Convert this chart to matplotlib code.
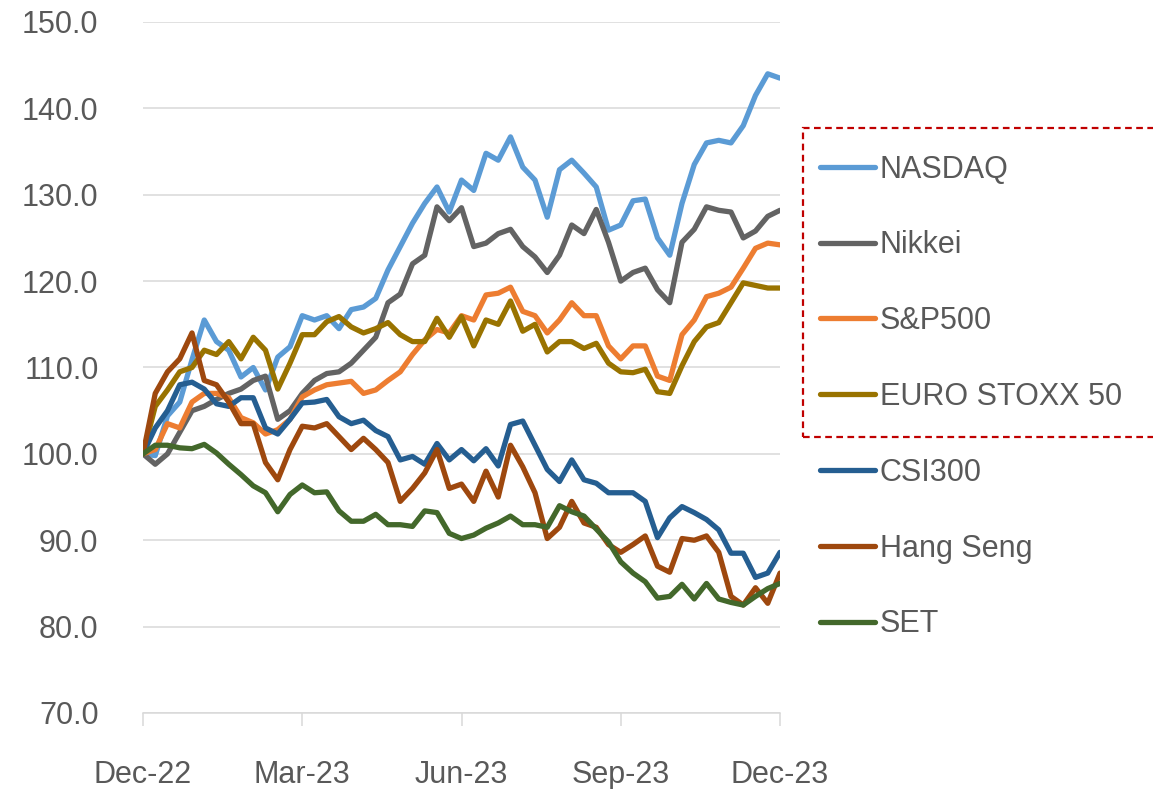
import numpy as np
import matplotlib.pyplot as plt
from matplotlib.patches import Rectangle

plt.rcParams['font.family'] = ['Liberation Sans', 'DejaVu Sans']

# weekly index levels, Dec-22 = 100
weeks = np.arange(53)

nasdaq = [100, 99.8, 104.4, 106, 110.9, 115.5, 113, 112, 108.9, 110, 107.4, 111.2, 112.4,
          116, 115.5, 116, 114.5, 116.7, 117, 118, 121.3, 124, 126.7, 129, 130.9, 128,
          131.7, 130.5, 134.8, 134, 136.7, 133.2, 131.7, 127.4, 132.9, 134, 132.5, 130.9,
          125.9, 126.5, 129.3, 129.5, 125, 123, 129, 133.5, 136, 136.3, 136, 138, 141.5,
          144, 143.5]
nikkei = [100, 98.8, 100, 102.5, 105, 105.5, 106.3, 107, 107.5, 108.5, 109, 104, 105,
          107, 108.5, 109.3, 109.5, 110.5, 112, 113.5, 117.5, 118.5, 122, 123, 128.6, 127,
          128.5, 124, 124.4, 125.5, 126, 124, 122.8, 121, 123, 126.5, 125.5, 128.3, 124.5,
          120, 121, 121.5, 119, 117.5, 124.5, 126, 128.6, 128.2, 128, 125, 125.8, 127.5,
          128.2]
sp500 = [100, 100.5, 103.5, 103, 106, 107, 107, 106.5, 104.2, 103.6, 102.3, 102.8, 104,
         106.6, 107.4, 108, 108.2, 108.4, 107, 107.4, 108.5, 109.5, 111.5, 113.2, 114.4, 114,
         116, 115.5, 118.4, 118.6, 119.3, 116.5, 116, 114, 115.5, 117.5, 116, 116, 112.5,
         111, 112.5, 112.5, 109, 108.5, 113.8, 115.5, 118.2, 118.6, 119.3, 121.5, 123.8,
         124.4, 124.2]
eurostoxx = [100, 105.5, 107.4, 109.5, 110, 112, 111.5, 113, 111, 113.5, 112, 107.5, 110.5,
             113.8, 113.8, 115.3, 115.9, 114.7, 114, 114.5, 115.2, 113.8, 113, 113, 115.7,
             113.5, 115.9, 112.5, 115.5, 115, 117.7, 114.2, 115, 111.8, 113, 113, 112.2,
             112.8, 110.5, 109.5, 109.4, 109.8, 107.2, 107, 110.2, 113, 114.7, 115.2, 117.5,
             119.8, 119.5, 119.2, 119.2]
csi300 = [100, 103, 105, 108, 108.3, 107.5, 105.8, 105.5, 106.5, 106.5, 103, 102.3, 104,
          105.9, 106, 106.3, 104.3, 103.5, 103.9, 102.7, 102, 99.3, 99.7, 98.8, 101.2, 99.3,
          100.5, 99.2, 100.6, 98.6, 103.4, 103.8, 101, 98.2, 96.8, 99.3, 97, 96.6, 95.5,
          95.5, 95.5, 94.5, 90.3, 92.6, 93.9, 93.2, 92.4, 91.2, 88.5, 88.5, 85.7, 86.2, 88.6]
hangseng = [100, 107, 109.5, 111, 114, 108.5, 108, 106, 103.5, 103.5, 99, 97, 100.5,
            103.2, 103, 103.5, 102, 100.5, 101.8, 100.5, 99, 94.5, 96, 97.8, 100.5, 96,
            96.5, 94.5, 98, 95, 101, 98.5, 95.5, 90.2, 91.5, 94.5, 92, 91.5, 89.5, 88.6,
            89.5, 90.5, 87, 86.3, 90.2, 90, 90.5, 88.6, 83.5, 82.5, 84.5, 82.7, 86.2]
set_idx = [100, 101, 101, 100.7, 100.6, 101.1, 100.1, 98.8, 97.6, 96.3, 95.5, 93.3, 95.3,
           96.4, 95.5, 95.6, 93.4, 92.2, 92.2, 93, 91.8, 91.8, 91.6, 93.4, 93.2, 90.8, 90.2,
           90.6, 91.4, 92, 92.8, 91.8, 91.8, 91.5, 94, 93.3, 92.8, 91.3, 89.8, 87.5, 86.2,
           85.2, 83.3, 83.5, 84.9, 83.2, 85, 83.2, 82.8, 82.5, 83.5, 84.4, 85]

series = [
    ("NASDAQ", nasdaq, "#5B9BD5"),
    ("Nikkei", nikkei, "#636363"),
    ("S&P500", sp500, "#ED7D31"),
    ("EURO STOXX 50", eurostoxx, "#997300"),
    ("CSI300", csi300, "#255E91"),
    ("Hang Seng", hangseng, "#9E480E"),
    ("SET", set_idx, "#43682B"),
]

tick_pos = [0, 13, 26, 39, 52]
tick_labels = ["Dec-22", "Mar-23", "Jun-23", "Sep-23", "Dec-23"]

W, H = 1153, 789
fig = plt.figure(figsize=(W / 100, H / 100), dpi=100)
ax = fig.add_axes([143 / W, 1 - 713 / H, (780 - 143) / W, (713 - 22) / H])

for name, vals, col in series:
    ax.plot(weeks, vals, color=col, lw=3.8, label=name,
            solid_joinstyle="round", solid_capstyle="round", zorder=3)

ax.set_xlim(0, 52)
ax.set_ylim(70, 150)
ax.set_yticks(np.arange(70, 151, 10))
ax.set_yticklabels([f"{v:.1f}" for v in np.arange(70, 151, 10)])
ax.set_xticks(tick_pos)
ax.set_xticklabels(tick_labels)

ax.grid(axis="y", color="#D9D9D9", lw=1.1, zorder=0)
for s in ["top", "right", "left"]:
    ax.spines[s].set_visible(False)
ax.spines["bottom"].set_color("#D9D9D9")
ax.spines["bottom"].set_linewidth(1.1)
ax.tick_params(axis="y", length=0, pad=32, labelsize=22, labelcolor="#595959")
ax.tick_params(axis="x", length=9.5, width=1.1, color="#D9D9D9", pad=24,
               labelsize=22, labelcolor="#595959")

leg = fig.legend(loc="center left", bbox_to_anchor=(820 / W, 1 - 397 / H),
                 frameon=False, fontsize=22, labelcolor="#595959",
                 handlelength=1.8, handletextpad=0.15, labelspacing=1.5,
                 borderpad=0, borderaxespad=0)
for h in leg.get_lines():
    h.set_linewidth(3.8)
    h.set_solid_capstyle("round")

# dashed box around the first four legend entries
box = Rectangle((803 / W, 1 - 437 / H), (1165 - 803) / W, (437 - 128) / H,
                transform=fig.transFigure, fill=False, edgecolor="#C00000",
                lw=1.6, ls=(0, (3, 2)), clip_on=False)
fig.patches.append(box)

fig.savefig("out.png", dpi=100)
